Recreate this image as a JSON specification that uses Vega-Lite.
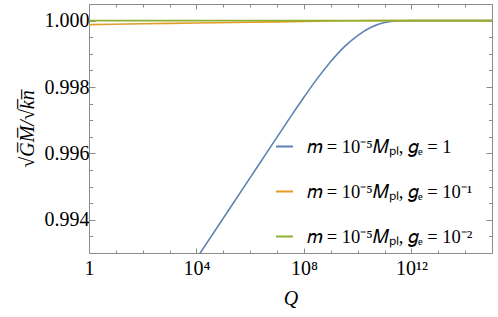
{
  "$schema": "https://vega.github.io/schema/vega-lite/v6.json",
  "width": 403,
  "height": 249,
  "autosize": "none",
  "padding": {"left": 89, "top": 4, "right": 6, "bottom": 64},
  "config": {
    "view": {"stroke": null},
    "font": "Liberation Serif",
    "axis": {"labelFont": "Liberation Serif", "titleFont": "Liberation Serif", "domainColor": "#8c8c8c", "tickColor": "#8c8c8c", "grid": false, "labelColor": "#000000", "titleColor": "#000000", "titleFontWeight": "normal"},
    "legend": {"labelFont": "Liberation Serif"}
  },
  "data": {"values": [
    {"Q": 10000, "v": 0.99283, "s": "𝑚 = 10⁻⁵𝑀ₚₗ,  𝑔ₑ = 1"},
    {"Q": 31623, "v": 0.99344, "s": "𝑚 = 10⁻⁵𝑀ₚₗ,  𝑔ₑ = 1"},
    {"Q": 100000, "v": 0.99405, "s": "𝑚 = 10⁻⁵𝑀ₚₗ,  𝑔ₑ = 1"},
    {"Q": 316228, "v": 0.99466, "s": "𝑚 = 10⁻⁵𝑀ₚₗ,  𝑔ₑ = 1"},
    {"Q": 1000000, "v": 0.99527, "s": "𝑚 = 10⁻⁵𝑀ₚₗ,  𝑔ₑ = 1"},
    {"Q": 3162278, "v": 0.99588, "s": "𝑚 = 10⁻⁵𝑀ₚₗ,  𝑔ₑ = 1"},
    {"Q": 10000000, "v": 0.99649, "s": "𝑚 = 10⁻⁵𝑀ₚₗ,  𝑔ₑ = 1"},
    {"Q": 31622777, "v": 0.9971, "s": "𝑚 = 10⁻⁵𝑀ₚₗ,  𝑔ₑ = 1"},
    {"Q": 100000000, "v": 0.99769, "s": "𝑚 = 10⁻⁵𝑀ₚₗ,  𝑔ₑ = 1"},
    {"Q": 316227766, "v": 0.99826, "s": "𝑚 = 10⁻⁵𝑀ₚₗ,  𝑔ₑ = 1"},
    {"Q": 1000000000, "v": 0.99877, "s": "𝑚 = 10⁻⁵𝑀ₚₗ,  𝑔ₑ = 1"},
    {"Q": 3162277660, "v": 0.99921, "s": "𝑚 = 10⁻⁵𝑀ₚₗ,  𝑔ₑ = 1"},
    {"Q": 10000000000, "v": 0.99955, "s": "𝑚 = 10⁻⁵𝑀ₚₗ,  𝑔ₑ = 1"},
    {"Q": 31622776602, "v": 0.9998, "s": "𝑚 = 10⁻⁵𝑀ₚₗ,  𝑔ₑ = 1"},
    {"Q": 100000000000, "v": 0.99994, "s": "𝑚 = 10⁻⁵𝑀ₚₗ,  𝑔ₑ = 1"},
    {"Q": 316227766017, "v": 0.99999, "s": "𝑚 = 10⁻⁵𝑀ₚₗ,  𝑔ₑ = 1"},
    {"Q": 1000000000000, "v": 1.0, "s": "𝑚 = 10⁻⁵𝑀ₚₗ,  𝑔ₑ = 1"},
    {"Q": 1e15, "v": 1.0, "s": "𝑚 = 10⁻⁵𝑀ₚₗ,  𝑔ₑ = 1"},
    {"Q": 1, "v": 0.99988, "s": "𝑚 = 10⁻⁵𝑀ₚₗ,  𝑔ₑ = 10⁻¹"},
    {"Q": 100, "v": 0.999904, "s": "𝑚 = 10⁻⁵𝑀ₚₗ,  𝑔ₑ = 10⁻¹"},
    {"Q": 10000, "v": 0.999928, "s": "𝑚 = 10⁻⁵𝑀ₚₗ,  𝑔ₑ = 10⁻¹"},
    {"Q": 1000000, "v": 0.999952, "s": "𝑚 = 10⁻⁵𝑀ₚₗ,  𝑔ₑ = 10⁻¹"},
    {"Q": 100000000, "v": 0.999975, "s": "𝑚 = 10⁻⁵𝑀ₚₗ,  𝑔ₑ = 10⁻¹"},
    {"Q": 1000000000, "v": 0.999987, "s": "𝑚 = 10⁻⁵𝑀ₚₗ,  𝑔ₑ = 10⁻¹"},
    {"Q": 10000000000, "v": 0.999996, "s": "𝑚 = 10⁻⁵𝑀ₚₗ,  𝑔ₑ = 10⁻¹"},
    {"Q": 100000000000, "v": 1.0, "s": "𝑚 = 10⁻⁵𝑀ₚₗ,  𝑔ₑ = 10⁻¹"},
    {"Q": 1e15, "v": 1.0, "s": "𝑚 = 10⁻⁵𝑀ₚₗ,  𝑔ₑ = 10⁻¹"},
    {"Q": 1, "v": 0.9999988, "s": "𝑚 = 10⁻⁵𝑀ₚₗ,  𝑔ₑ = 10⁻²"},
    {"Q": 10000, "v": 0.9999993, "s": "𝑚 = 10⁻⁵𝑀ₚₗ,  𝑔ₑ = 10⁻²"},
    {"Q": 100000000, "v": 0.9999998, "s": "𝑚 = 10⁻⁵𝑀ₚₗ,  𝑔ₑ = 10⁻²"},
    {"Q": 100000000000, "v": 1.0, "s": "𝑚 = 10⁻⁵𝑀ₚₗ,  𝑔ₑ = 10⁻²"},
    {"Q": 1e15, "v": 1.0, "s": "𝑚 = 10⁻⁵𝑀ₚₗ,  𝑔ₑ = 10⁻²"}
  ]},
  "layer": [
    {
      "mark": {"type": "line", "clip": true, "strokeWidth": 1.6, "interpolate": "monotone"},
      "encoding": {
        "x": {
          "field": "Q", "type": "quantitative",
          "scale": {"type": "log", "domain": [1, 1e15]},
          "axis": {
            "orient": "bottom",
            "values": [1, 10, 100, 1000, 10000, 100000, 1000000, 10000000, 100000000, 1000000000, 10000000000, 100000000000, 1000000000000, 10000000000000, 100000000000000, 1e15],
            "tickSize": {"condition": {"test": "round(log(datum.value)/LN10) % 4 == 0", "value": -5}, "value": -3},
            "labelExpr": "datum.value == 1 ? '1' : datum.value == 10000 ? '10⁴' : datum.value == 100000000 ? '10⁸' : datum.value == 1000000000000 ? '10¹²' : ''",
            "labelFontSize": 20,
            "labelPadding": 10,
            "labelFlush": false,
            "labelOverlap": false,
            "title": "Q",
            "titleFontStyle": "italic",
            "titleFontSize": 20,
            "titlePadding": 8
          }
        },
        "y": {
          "field": "v", "type": "quantitative",
          "scale": {"domain": [0.993, 1.0005], "nice": false, "zero": false},
          "axis": {
            "orient": "left",
            "values": [0.9935, 0.994, 0.9945, 0.995, 0.9955, 0.996, 0.9965, 0.997, 0.9975, 0.998, 0.9985, 0.999, 0.9995, 1.0],
            "tickSize": {"condition": {"test": "abs(datum.value*500 - round(datum.value*500)) < 0.01", "value": -6}, "value": -3.5},
            "labelExpr": "abs(datum.value*500 - round(datum.value*500)) < 0.01 ? format(datum.value, '.3f') : ''",
            "labelFontSize": 20,
            "labelPadding": 6,
            "labelOverlap": false,
            "labelFlush": false,
            "title": "√G̅M̅/√k̅n̅",
            "titleFontStyle": "italic",
            "titleFontSize": 20,
            "titlePadding": 7
          }
        },
        "color": {
          "field": "s", "type": "nominal",
          "scale": {"domain": ["𝑚 = 10⁻⁵𝑀ₚₗ,  𝑔ₑ = 1", "𝑚 = 10⁻⁵𝑀ₚₗ,  𝑔ₑ = 10⁻¹", "𝑚 = 10⁻⁵𝑀ₚₗ,  𝑔ₑ = 10⁻²"], "range": ["#5E81B5", "#E19C24", "#8FB032"]},
          "legend": {
            "orient": "none", "legendX": 186, "legendY": 133, "title": null,
            "symbolType": "stroke", "symbolSize": 289, "symbolStrokeWidth": 2,
            "labelFontSize": 18.5, "labelColor": "#000000",
            "rowPadding": 26, "labelOffset": 13, "labelLimit": 300
          }
        }
      }
    },
    {
      "mark": {"type": "point", "opacity": 0, "clip": true},
      "encoding": {
        "x": {
          "field": "Q", "type": "quantitative",
          "scale": {"type": "log", "domain": [1, 1e15]},
          "axis": {
            "orient": "top",
            "values": [1, 10, 100, 1000, 10000, 100000, 1000000, 10000000, 100000000, 1000000000, 10000000000, 100000000000, 1000000000000, 10000000000000, 100000000000000, 1e15],
            "tickSize": {"condition": {"test": "round(log(datum.value)/LN10) % 4 == 0", "value": -5}, "value": -3},
            "labels": false,
            "title": null
          }
        },
        "y": {
          "field": "v", "type": "quantitative",
          "scale": {"domain": [0.993, 1.0005], "nice": false, "zero": false},
          "axis": {
            "orient": "right",
            "values": [0.9935, 0.994, 0.9945, 0.995, 0.9955, 0.996, 0.9965, 0.997, 0.9975, 0.998, 0.9985, 0.999, 0.9995, 1.0],
            "tickSize": {"condition": {"test": "abs(datum.value*500 - round(datum.value*500)) < 0.01", "value": -6}, "value": -3.5},
            "labels": false,
            "title": null
          }
        }
      }
    }
  ],
  "resolve": {"axis": {"x": "independent", "y": "independent"}}
}
